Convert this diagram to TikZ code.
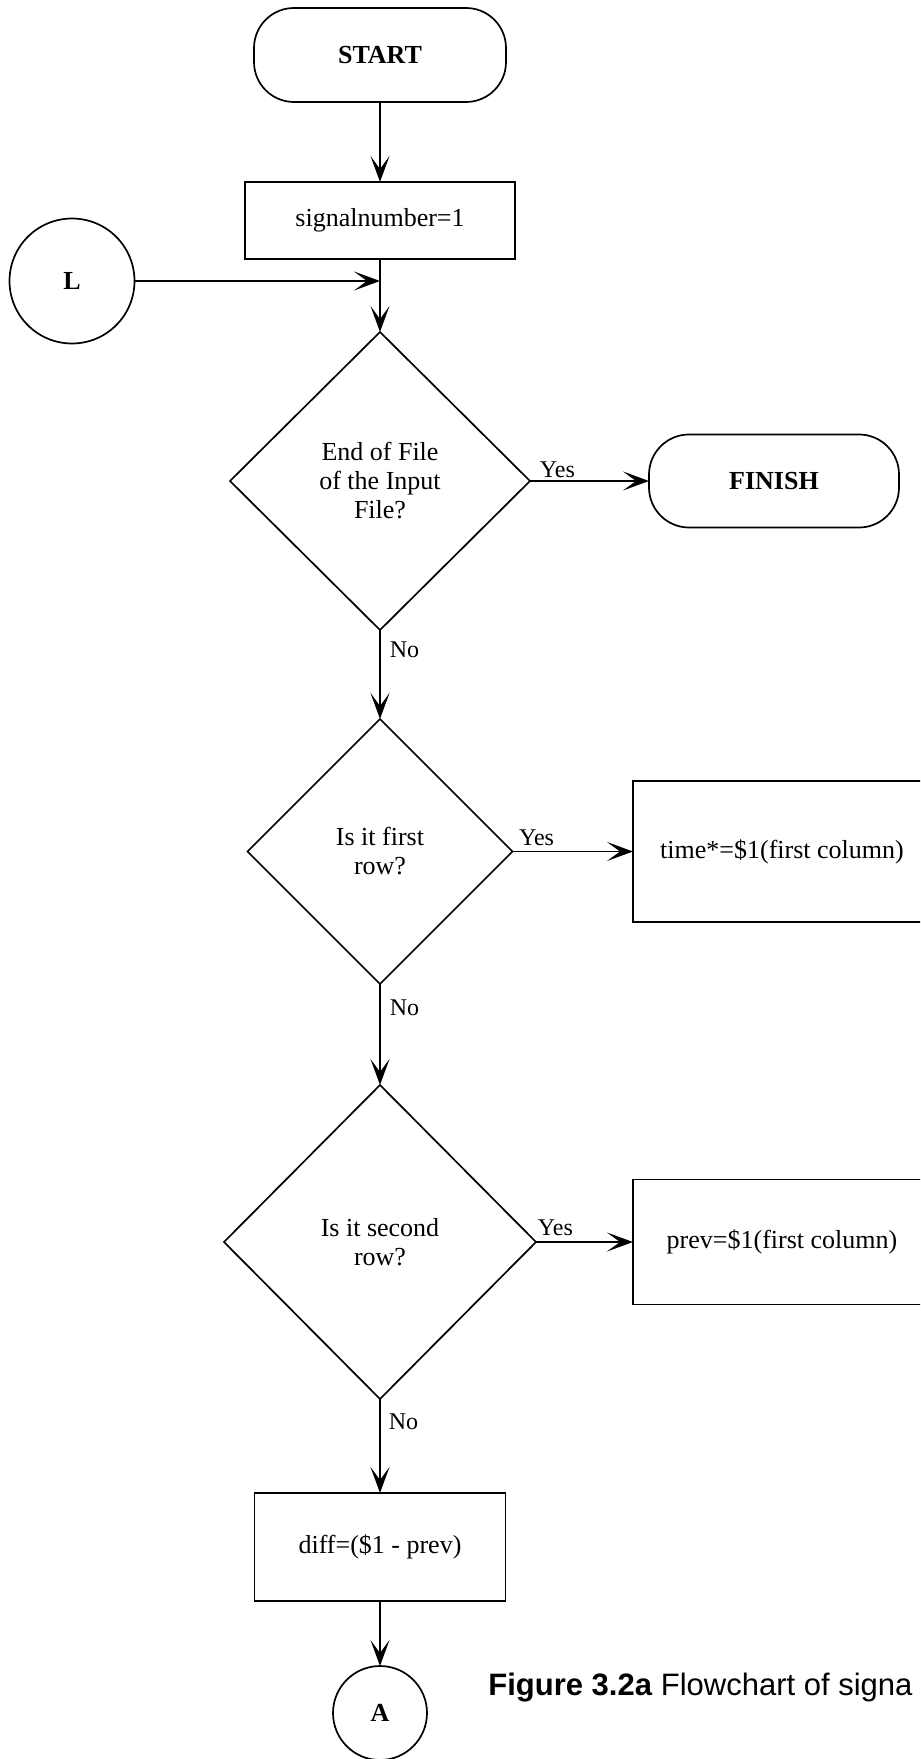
\documentclass[tikz,border=0pt]{standalone}
\usepackage{fontspec}
\setmainfont{Liberation Serif}
\newfontfamily\capfont{Liberation Sans}
\usetikzlibrary{shapes.geometric,arrows.meta}

\tikzset{
  base/.style={draw, line width=0.85pt, inner sep=0pt, outer sep=0pt,
    font=\fontsize{13}{14.5}\selectfont, align=center},
  terminal/.style={base, rectangle, rounded corners=20pt,
    minimum width=126pt, minimum height=47pt, font=\fontsize{13}{14.5}\selectfont\bfseries},
  process/.style={base, rectangle},
  decision/.style={base, diamond},
  connector/.style={base, circle, font=\fontsize{13}{14.5}\selectfont\bfseries},
  arr/.style={line width=0.85pt, -{Stealth[length=13pt,width=9.5pt,inset=6.5pt]}},
  lbl/.style={inner sep=0pt, font=\fontsize{12}{13}\selectfont},
}

\begin{document}
\begin{tikzpicture}[x=0.5pt, y=-0.5pt]
  \useasboundingbox (0,0) rectangle (920,1759);
  \clip (0,0) rectangle (920,1759);

  % main column
  \node[terminal] (start) at (380,55) {START};
  \node[process, minimum width=135pt, minimum height=38.5pt] (init) at (380,220.5) {signalnumber=1};
  \node[connector, minimum size=62.5pt] (L) at (72,281) {L};
  \coordinate (join) at (init.south |- L.east);
  \node[decision, minimum width=150pt, minimum height=149pt] (eof) at (380,481)
    {End of File\\of the Input\\File?};
  \node[terminal, minimum width=125pt, minimum height=46.5pt] (finish) at (774,481) {FINISH};
  \node[decision, minimum width=132.5pt, minimum height=132.5pt] (first) at (380,851.5)
    {Is it first\\row?};
  \node[process, minimum width=149pt, minimum height=70.5pt] (time) at (782,851.5)
    {time*=\$1(first column)};
  \node[decision, minimum width=156pt, minimum height=157pt] (second) at (380,1242)
    {Is it second\\row?};
  \node[process, minimum width=149pt, minimum height=62.5pt] (prev) at (782,1242)
    {prev=\$1(first column)};
  \node[process, minimum width=125.5pt, minimum height=54pt] (diff) at (380,1547)
    {diff=(\$1 - prev)};
  \node[connector, minimum size=47pt] (A) at (380,1713) {A};

  % connectors
  \draw[arr] (start) -- (init);
  \draw[line width=0.85pt] (init.south) -- (join);
  \draw[arr] (join) -- (eof.north);
  \draw[arr] (L.east) -- (join);
  \draw[arr] (eof.east) -- node[lbl, pos=0.23, anchor=base, yshift=2pt] {Yes} (finish.west);
  \draw[arr] (eof.south) -- node[lbl, pos=0.22, anchor=west, xshift=4.5pt] {No} (first.north);
  \draw[arr] (first.east) -- node[lbl, pos=0.2, anchor=base, yshift=3pt] {Yes} (time.west);
  \draw[arr] (first.south) -- node[lbl, pos=0.24, anchor=west, xshift=4.5pt] {No} (second.north);
  \draw[arr] (second.east) -- node[lbl, pos=0.2, anchor=base, yshift=3.5pt] {Yes} (prev.west);
  \draw[arr] (second.south) -- node[lbl, pos=0.245, anchor=west, xshift=4pt] {No} (diff.north);
  \draw[arr] (diff) -- (A);

  % caption
  \node[anchor=base west, inner sep=0pt, font=\capfont\fontsize{15.5}{18}\selectfont] (caption)
    at (488,1695) {\textbf{Figure 3.2a} Flowchart of signa};
\end{tikzpicture}
\end{document}
